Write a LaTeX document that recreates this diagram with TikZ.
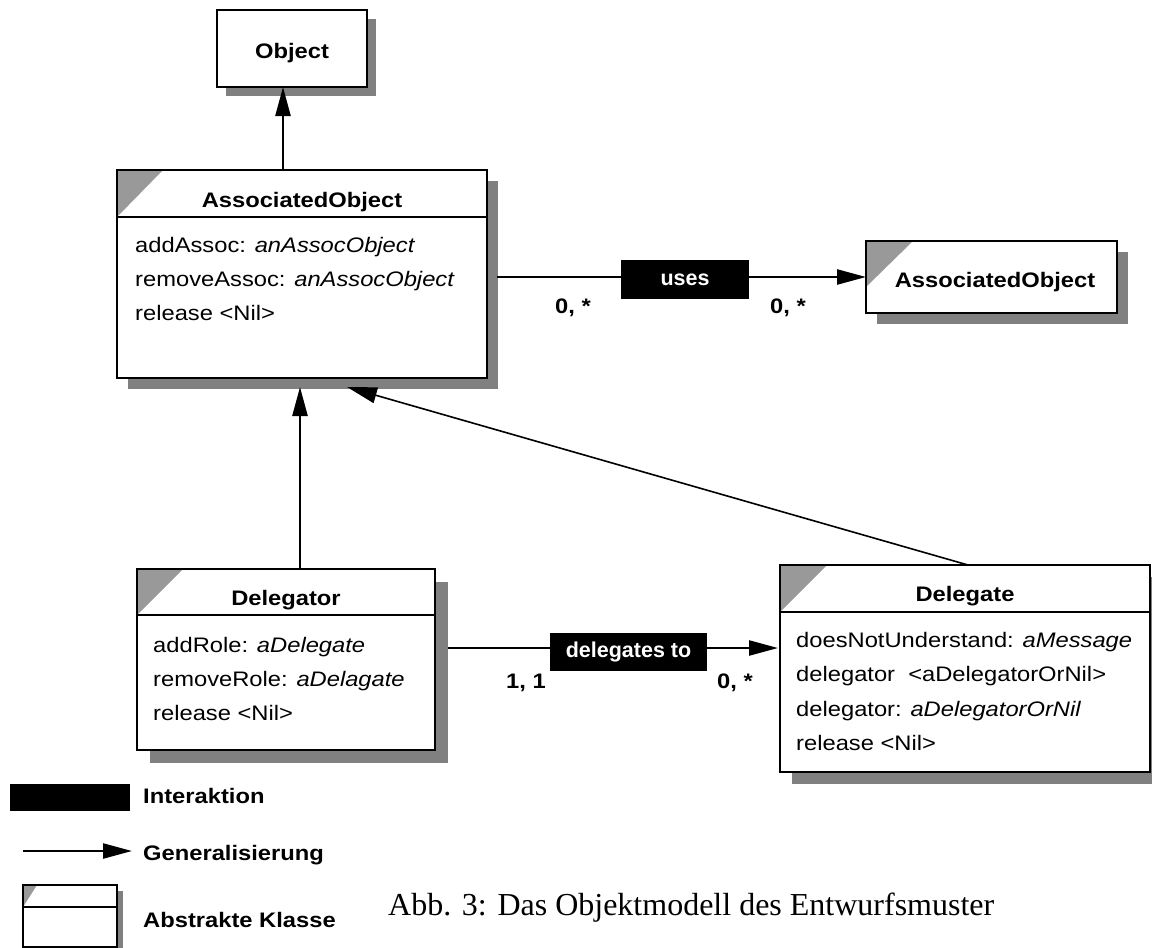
\documentclass[tikz,border=0pt]{standalone}
\usepackage{fontspec}
\setmainfont[FakeStretch=1.13]{Liberation Sans}
\newfontfamily\labfont{Liberation Sans}
\newfontfamily\capfont{Liberation Serif}
\usetikzlibrary{arrows.meta,shadows}
\definecolor{shgrey}{HTML}{808080}
\definecolor{trigrey}{HTML}{999999}
\tikzset{
  cls/.style={draw=black, line width=2.4pt, fill=white, inner sep=0pt, outer sep=0pt, anchor=north west},
  shd/.style={drop shadow={shadow xshift=#1, shadow yshift=-#1, fill=shgrey, opacity=1}},
  abstr/.style 2 args={path picture={\fill[trigrey] (path picture bounding box.north west) -- ++(#1,0pt) -- ++(-#1,-#2) -- cycle;}},
  divl/.style={line width=2.4pt},
  txt/.style={anchor=base west, inner sep=0pt, font=\fontsize{21}{25}\selectfont},
  ttl/.style={anchor=base, inner sep=0pt, font=\fontsize{21}{25}\selectfont\bfseries},
  mult/.style={anchor=base, inner sep=0pt, font=\fontsize{21}{25}\selectfont\bfseries},
  inter/.style={fill=black, text=white, inner sep=0pt, outer sep=0pt, font=\labfont\fontsize{21.5}{25}\selectfont\bfseries},
  gen/.style={line width=2.4pt, -{Triangle[length=29pt,width=15pt]}},
  genthin/.style={line width=1.6pt, -{Triangle[length=30pt,width=16pt]}},
}
\begin{document}
\begin{tikzpicture}[x=1pt,y=-1pt]
\useasboundingbox[fill=white] (0,0) rectangle (1152,948);

% ---------- classes ----------
\node[cls, shd=9pt, minimum width=150pt, minimum height=77pt] (obj) at (217,10) {};
\node[ttl] (objt) at (292,58) {Object};

\node[cls, shd=11pt, abstr={46pt}{47pt}, minimum width=370pt, minimum height=208pt] (ao) at (117,170) {};
\draw[divl] ([yshift=-47pt]ao.north west) -- ([yshift=-47pt]ao.north east);
\node[ttl] (aot) at (302,207) {AssociatedObject};
\node[txt] (ao1) at (135,252) {addAssoc: \textit{anAssocObject}};
\node[txt] (ao2t) at (135,286) {removeAssoc: \textit{anAssocObject}};
\node[txt] (ao3) at (135,320) {release <Nil>};

\node[cls, shd=11pt, abstr={47pt}{46pt}, minimum width=251pt, minimum height=72pt] (ao2) at (866,241) {};
\node[ttl] (ao2title) at (995,287) {AssociatedObject};

\node[cls, shd=13pt, abstr={46pt}{46pt}, minimum width=298pt, minimum height=181pt] (dlr) at (137,569) {};
\draw[divl] ([yshift=-46pt]dlr.north west) -- ([yshift=-46pt]dlr.north east);
\node[ttl] (dlrt) at (286,605) {Delegator};
\node[txt] (dlr1) at (153,652) {addRole: \textit{aDelegate}};
\node[txt] (dlr2) at (153,686) {removeRole: \textit{aDelagate}};
\node[txt] (dlr3) at (153,720) {release <Nil>};

\node[cls, shd=12pt, abstr={47pt}{47pt}, minimum width=370pt, minimum height=207pt] (dlg) at (780,565) {};
\draw[divl] ([yshift=-47pt]dlg.north west) -- ([yshift=-47pt]dlg.north east);
\node[ttl] (dlgt) at (965,601) {Delegate};
\node[txt] (dlg1) at (796,647) {doesNotUnderstand: \textit{aMessage}};
\node[txt] (dlg2) at (796,681) {delegator~ <aDelegatorOrNil>};
\node[txt] (dlg3) at (796,716) {delegator: \textit{aDelegatorOrNil}};
\node[txt] (dlg4) at (796,750) {release <Nil>};

% ---------- generalisations ----------
\draw[gen] ([xshift=-19pt]ao.north) -- ([xshift=-9pt]obj.south);
\draw[gen] ([xshift=14pt]dlr.north) -- ([xshift=-2pt,yshift=-9pt]ao.south);
\draw[genthin] ([xshift=3pt]dlg.north) -- ([xshift=45pt,yshift=-9pt]ao.south);

% ---------- uses ----------
\draw[gen] ([xshift=10pt]ao.east |- ao2.west) -- (ao2.west);
\node[inter, minimum width=128pt, minimum height=39pt] (uses) at (685,279.5) {uses};
\node[mult] (m1) at (573,313) {0, *};
\node[mult] (m2) at (788,313) {0, *};

% ---------- delegates to ----------
\coordinate (dtc) at (628.5,652);
\draw[gen] ([xshift=13pt,yshift=4pt]dlr.east |- dtc) -- ([xshift=-2pt,yshift=4pt]dlg.west |- dtc);
\node[inter, minimum width=157pt, minimum height=38pt] (dtl) at (dtc) {delegates to};
\node[mult] (m3) at (526,688) {1, 1};
\node[mult] (m4) at (735,688) {0, *};

% ---------- legend ----------
\node[inter, minimum width=120pt, minimum height=27pt, anchor=north west] (lint) at (10,784) {};
\node[ttl, anchor=base west] (lintt) at (143,803) {Interaktion};
\coordinate (lg1) at (23,851);
\coordinate (lg2) at (132,851);
\draw[gen] (lg1) -- (lg2);
\node[ttl, anchor=base west] (lgent) at (143,860) {Generalisierung};
\node[cls, line width=2pt, shd=6pt, abstr={14pt}{22pt}, minimum width=94pt, minimum height=62pt] (labs) at (23,885) {};
\draw[line width=2pt] ([yshift=-22pt]labs.north west) -- ([yshift=-22pt]labs.north east);
\node[ttl, anchor=base west] (labst) at (143,927) {Abstrakte Klasse};

\node[anchor=base west, inner sep=0pt, font=\capfont\fontsize{32}{38}\selectfont] (cap) at (388,915) {Abb. 3: Das Objektmodell des Entwurfsmuster};
\end{tikzpicture}
\end{document}
